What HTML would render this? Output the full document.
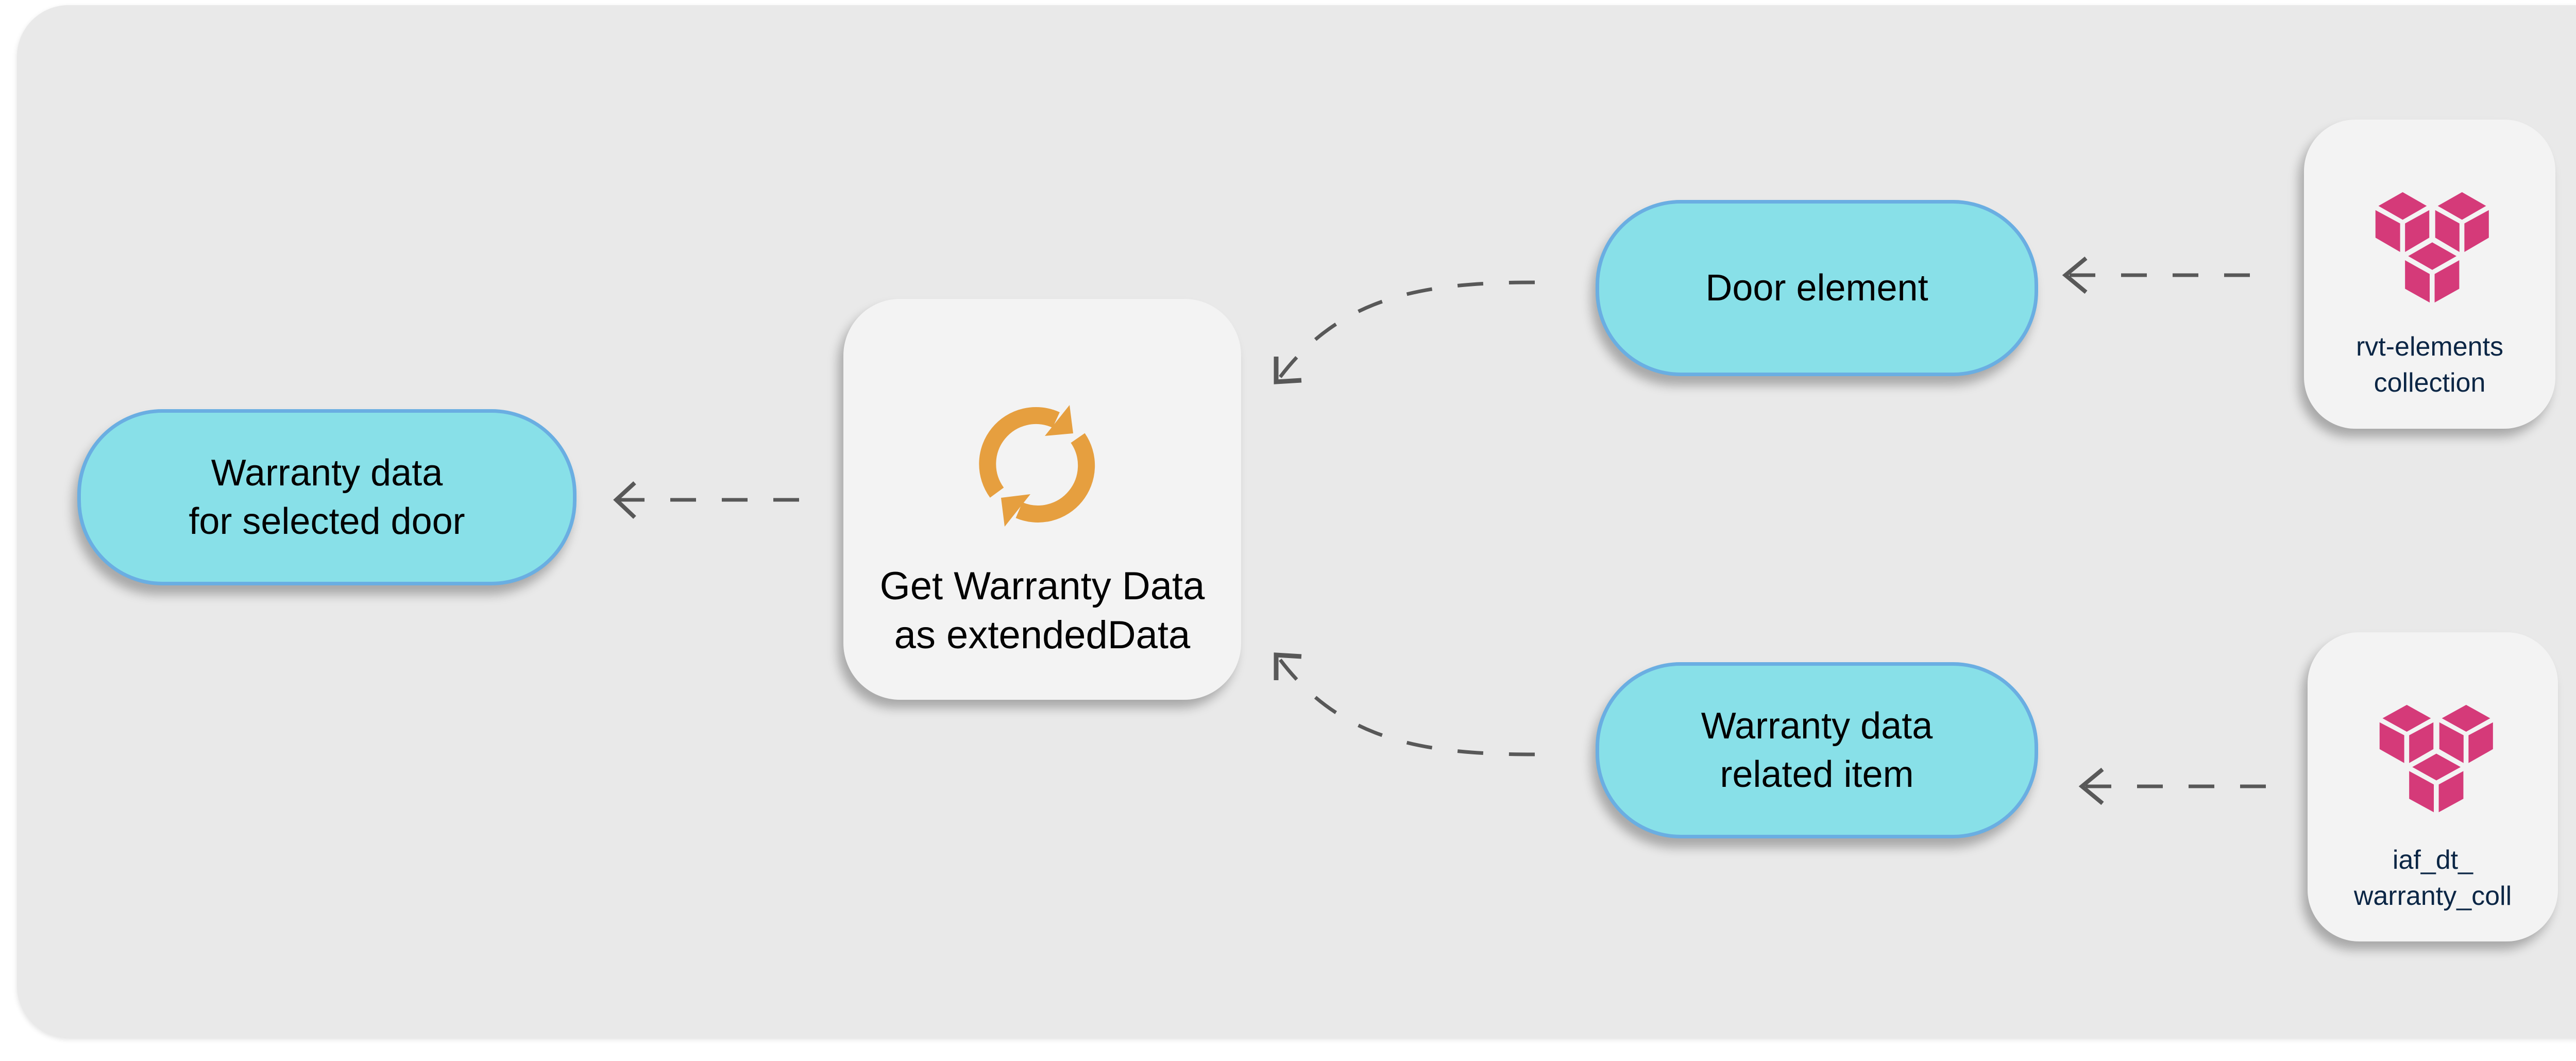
<!DOCTYPE html>
<html><head><meta charset="utf-8"><meta name="viewport" content="width=5209"><style>
html{margin:0;padding:0;width:5209px;height:2059px;overflow:hidden;background:#fff}
body{margin:0;padding:0;width:5209px;height:2059px;position:relative;overflow:hidden;font-family:"Liberation Sans",sans-serif}
.bg{position:absolute;left:33px;top:10px;width:5159px;height:2003px;background:#e9e9e9;border-radius:100px;box-shadow:0 4px 10px rgba(0,0,0,.12)}
.pill{position:absolute;background:#88e0e8;border:7px solid #6aaee2;box-sizing:border-box;border-radius:165px;box-shadow:-8px 18px 20px rgba(0,0,0,.28);display:flex;align-items:center;justify-content:center;text-align:center;color:#000;font-size:72px;line-height:94px}
.box{position:absolute;background:#f3f3f3;box-shadow:-10px 16px 20px rgba(0,0,0,.28)}
.small{position:absolute;width:100%;text-align:center;color:#0b2645;font-size:52px;line-height:70px}
svg{position:absolute;left:0;top:0}
</style></head><body>
<div class="bg"></div>

<div class="pill" style="left:150px;top:794px;width:969px;height:342px">Warranty data<br>for selected door</div>
<div class="pill" style="left:3097px;top:388px;width:859px;height:342px">Door element</div>
<div class="pill" style="left:3097px;top:1285px;width:859px;height:342px">Warranty data<br>related item</div>

<div class="box" style="left:1637px;top:580px;width:772px;height:778px;border-radius:110px">
  <div style="position:absolute;width:100%;top:510px;text-align:center;font-size:76px;line-height:95px;color:#000">Get Warranty Data<br>as extendedData</div>
</div>
<div class="box" style="left:4472px;top:232px;width:488px;height:600px;border-radius:100px">
  <div class="small" style="top:406px">rvt-elements<br>collection</div>
</div>
<div class="box" style="left:4479px;top:1227px;width:486px;height:600px;border-radius:100px">
  <div class="small" style="top:407px">iaf_dt_<br>warranty_coll</div>
</div>

<svg width="5209" height="2059" viewBox="0 0 5209 2059">
  <defs>
    <g id="cubes" fill="#d53a79">
      <polygon points="567,447 690,387 812,447 690,507"/>
      <polygon points="552,465 677,523 677,647 552,585"/>
      <polygon points="702,523 825,465 825,585 702,647"/>
      <polygon points="868,447 991,387 1113,447 991,507"/>
      <polygon points="855,465 978,523 978,647 855,585"/>
      <polygon points="1003,523 1127,465 1127,585 1003,647"/>
      <polygon points="718,665 840,605 963,665 840,725"/>
      <polygon points="702,683 827,743 827,867 702,807"/>
      <polygon points="852,743 977,683 977,807 852,867"/>
    </g>
  </defs>
  <g transform="translate(4610,372) scale(0.3827,0.4464) translate(-550,-385)"><use href="#cubes"/></g>
  <g transform="translate(4618,1367) scale(0.3827,0.4340) translate(-550,-385)"><use href="#cubes"/></g>

  <g fill="none" stroke="#e69f3f" stroke-width="33">
    <path d="M1935,956 A94,94 0 0 1 2050,815"/>
    <path d="M2092,850 A94,94 0 0 1 1978,990"/>
  </g>
  <g fill="#e69f3f">
    <polygon points="2076,786 2083,841 2028,846"/>
    <polygon points="1950,1022 1943,966 2000,959"/>
  </g>

  <g fill="none" stroke="#585858" stroke-width="7">
    <path d="M1551,970 L1196,970" stroke-dasharray="50 50"/>
    <path d="M1232,937 L1196,970 L1232,1004" stroke-width="8"/>

    <path d="M4367,534 L4009,534" stroke-dasharray="50 50"/>
    <path d="M4049,501 L4009,534 L4049,567" stroke-width="8"/>

    <path d="M4398,1526 L4041,1526" stroke-dasharray="50 50"/>
    <path d="M4081,1493 L4041,1526 L4081,1559" stroke-width="8"/>

    <path d="M2979,548 C2760,548 2600,575 2480,738" stroke-dasharray="50 50"/>
    <path d="M2477,692 L2477,741 L2526,738" stroke-width="9"/>

    <path d="M2979,1464 C2760,1464 2600,1437 2480,1274" stroke-dasharray="50 50"/>
    <path d="M2477,1320 L2477,1271 L2526,1274" stroke-width="9"/>
  </g>
</svg>
</body></html>
